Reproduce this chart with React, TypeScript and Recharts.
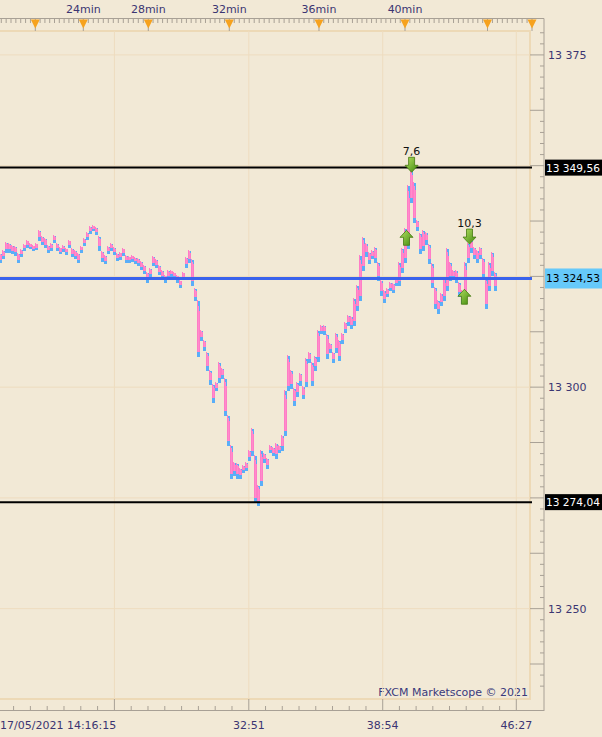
import React from "react";
import { Bar, CartesianGrid, ComposedChart, ReferenceLine, Scatter, XAxis, YAxis } from "recharts";

// tick bars, one every 3px: envelope of ask (pink) over bid (blue)
const highs = [
  13330.2, 13330.9, 13332.7, 13332.5, 13332.0, 13331.8, 13330.2, 13331.1, 13332.3, 13333.2,
  13332.5, 13332.0, 13332.5, 13335.4, 13334.1, 13333.6, 13332.0, 13332.5, 13334.3, 13332.5,
  13331.6, 13332.0, 13331.4, 13333.2, 13331.4, 13330.9, 13330.2, 13331.8, 13333.6, 13335.0,
  13336.3, 13336.6, 13336.1, 13334.1, 13330.7, 13329.8, 13331.8, 13332.5, 13331.6, 13330.2,
  13330.5, 13331.4, 13329.8, 13329.6, 13329.8, 13329.3, 13329.1, 13328.4, 13327.5, 13326.0,
  13326.9, 13329.6, 13328.9, 13327.5, 13326.4, 13325.3, 13326.4, 13326.4, 13326.0, 13325.3,
  13324.2, 13326.0, 13329.3, 13330.9, 13328.9, 13322.3, 13319.6, 13312.9, 13310.6, 13307.9,
  13303.8, 13300.7, 13301.1, 13305.6, 13304.3, 13302.0, 13293.7, 13286.9, 13283.1, 13282.8,
  13281.7, 13282.4, 13283.1, 13285.8, 13290.7, 13284.7, 13277.9, 13285.8, 13285.1, 13284.0,
  13286.9, 13286.5, 13287.4, 13286.9, 13289.2, 13299.3, 13307.2, 13303.8, 13299.8, 13301.1,
  13303.2, 13300.2, 13306.5, 13307.9, 13305.6, 13307.0, 13312.9, 13314.0, 13314.0, 13312.0,
  13309.9, 13307.9, 13312.2, 13310.6, 13312.2, 13314.7, 13316.3, 13316.0, 13320.1, 13323.0,
  13329.8, 13333.9, 13332.5, 13330.5, 13330.9, 13331.6, 13328.2, 13324.2, 13321.9, 13322.3,
  13323.7, 13323.5, 13324.8, 13328.2, 13331.4, 13335.9, 13345.6, 13349.4, 13346.3, 13337.7,
  13334.8, 13335.4, 13335.0, 13332.3, 13328.0, 13322.6, 13319.6, 13321.2, 13324.6, 13331.4,
  13328.2, 13326.4, 13326.4, 13323.7, 13321.9, 13328.2, 13332.5, 13333.2, 13331.6, 13330.9,
  13331.6, 13329.1, 13324.6, 13328.2, 13330.5, 13326.0,
];

const lows = [
  13328.2, 13329.1, 13330.5, 13330.5, 13330.2, 13329.8, 13328.2, 13329.6, 13330.9, 13331.6,
  13331.4, 13330.9, 13331.1, 13333.2, 13332.3, 13331.6, 13330.5, 13330.9, 13332.7, 13330.9,
  13330.2, 13330.7, 13330.0, 13331.6, 13329.6, 13329.1, 13328.2, 13330.5, 13332.0, 13333.4,
  13334.8, 13335.4, 13334.5, 13330.9, 13328.4, 13328.0, 13330.2, 13330.9, 13330.0, 13328.7,
  13328.9, 13329.8, 13328.2, 13328.2, 13328.4, 13328.0, 13327.5, 13326.6, 13325.7, 13323.7,
  13325.1, 13327.5, 13327.1, 13325.5, 13324.6, 13323.7, 13324.6, 13325.1, 13324.6, 13323.7,
  13322.6, 13324.4, 13327.1, 13328.2, 13323.0, 13319.6, 13307.0, 13310.6, 13308.4, 13303.8,
  13300.7, 13296.6, 13299.3, 13301.1, 13302.0, 13293.7, 13286.9, 13279.5, 13280.1, 13279.5,
  13279.5, 13280.8, 13281.3, 13283.5, 13284.7, 13274.0, 13273.4, 13278.0, 13283.1, 13281.7,
  13285.3, 13284.7, 13284.0, 13285.3, 13285.8, 13289.2, 13299.3, 13299.8, 13295.9, 13298.0,
  13300.5, 13297.5, 13300.2, 13305.6, 13300.5, 13303.8, 13306.0, 13312.2, 13312.0, 13306.5,
  13307.9, 13305.6, 13307.9, 13306.1, 13309.9, 13312.4, 13314.0, 13313.3, 13314.0, 13317.4,
  13319.6, 13326.4, 13329.6, 13328.0, 13329.1, 13328.2, 13324.2, 13320.8, 13319.2, 13320.5,
  13321.9, 13321.4, 13323.0, 13323.0, 13326.0, 13328.2, 13331.4, 13341.8, 13337.2, 13335.4,
  13330.2, 13330.9, 13332.3, 13328.0, 13322.6, 13317.8, 13316.7, 13318.5, 13319.6, 13321.9,
  13324.2, 13324.6, 13323.7, 13320.5, 13319.0, 13319.0, 13328.2, 13330.5, 13329.1, 13328.2,
  13329.1, 13324.6, 13317.8, 13321.9, 13325.3, 13321.9,
];

const levelPrices = [13349.56, 13324.53, 13274.04];
const levelLabels = ["13 349,56", "13 324,53", "13 274,04"];
const levelColors = ["#000000", "#3A63EC", "#000000"];

const priceLabels = [13375, 13300, 13250];
const gridPrices = [13375, 13350, 13325, 13300, 13275, 13250];

const timeTicks = [0, 82.93, 127.57, 172.1];
const timeLabels = ["17/05/2021 14:16:15", "32:51", "38:54", "46:27"];
const timeGrid = [38.13, 82.93, 127.57, 172.1];

const minuteMarks = [11.77, 27.77, 49.43, 76.43, 106.33, 135, 162.5, 177.33];
const minuteLabels = ["", "24min", "28min", "32min", "36min", "40min", "", ""];

const tradeIdx = [137.2, 135.5, 156.5, 154.8];
const tradePrice = [13348.5, 13335.4, 13332.3, 13322.1];
const tradeDir = ["down", "up", "down", "up"];
const tradeLabels = ["7,6", "", "10,3", ""];

const BG = "#F2E9D6";
const AXIS = "#A8A095";
const TEXT = "#3B3572";
const FONT = "DejaVu Sans, sans-serif";
const X_MAX = 177.33;
const Y_MIN = 13229.6;
const Y_MAX = 13380.4;

const bars = highs.map((h, i) => ({ i, range: [lows[i], h] }));
const trades = tradeIdx.map((i, k) => ({ i, price: tradePrice[k], dir: tradeDir[k], label: tradeLabels[k] }));

// axis tick positions (minor ticks fill the gaps between the marked ones)
const topTicks: number[] = [...minuteMarks];
for (let k = 1; k < minuteMarks.length; k++) {
  const a = minuteMarks[k - 1];
  const b = minuteMarks[k];
  const n = Math.max(1, Math.round((b - a) / 1.62));
  for (let j = 1; j < n; j++) topTicks.push(a + (j * (b - a)) / n);
}
for (let t = minuteMarks[0] - 1.62; t >= 0; t -= 1.62) topTicks.push(t);

const bottomTicks: number[] = [0, ...timeGrid];
const gStep = (timeGrid[1] - timeGrid[0]) / 8;
for (let t = timeGrid[0] - gStep; t > 1; t -= gStep) bottomTicks.push(t);
for (let k = 1; k < timeGrid.length; k++) {
  for (let j = 1; j < 8; j++) bottomTicks.push(timeGrid[k - 1] + (j * (timeGrid[k] - timeGrid[k - 1])) / 8);
}

const priceTicks: number[] = [];
for (let p = 13232.5; p <= 13380; p += 2.5) priceTicks.push(p);

const fmtPrice = (v: number) => `${Math.floor(v / 1000)} ${String(Math.round(v % 1000)).padStart(3, "0")}`;

// pink ask stroke with the blue bid showing underneath; each bar is two thin strokes
const TickBar = (props: any) => {
  const { x, y, width, height } = props;
  if (x == null || y == null) return null;
  const cx = Math.round(x + width / 2);
  const top = Math.min(y, y + height);
  const h = Math.max(1, Math.abs(height));
  const blue = Math.min(4, Math.max(1.5, h * 0.3));
  return (
    <g shapeRendering="crispEdges">
      <rect x={cx - 1} y={top + 1} width={3} height={h} fill="#5AAEF8" />
      <rect x={cx - 1} y={top} width={1} height={Math.max(1, h - blue)} fill="#FF7DC6" />
      <rect x={cx + 1} y={top + h * 0.2} width={1} height={Math.max(1, h * 0.8 - blue)} fill="#FF7DC6" />
      <rect x={cx} y={top + h * 0.1} width={1} height={Math.max(1, h * 0.9 - blue)} fill="#FF8CCB" />
    </g>
  );
};

const TradeArrow = (props: any) => {
  const { cx, cy, payload, index } = props;
  if (cx == null || cy == null) return null;
  const down = payload.dir === "down";
  const s = down ? -1 : 1;
  const d = [
    `M${cx},${cy}`,
    `L${cx + 6.5},${cy + s * 7}`,
    `L${cx + 3},${cy + s * 7}`,
    `L${cx + 3},${cy + s * 15}`,
    `L${cx - 3},${cy + s * 15}`,
    `L${cx - 3},${cy + s * 7}`,
    `L${cx - 6.5},${cy + s * 7}`,
    "Z",
  ].join(" ");
  const id = `arrowGrad${index}`;
  return (
    <g>
      <defs>
        <linearGradient id={id} x1="0" y1="0" x2="1" y2="1">
          <stop offset="0%" stopColor="#B6E063" />
          <stop offset="100%" stopColor="#3F8A0C" />
        </linearGradient>
      </defs>
      <path d={d} fill={`url(#${id})`} stroke="#467A12" strokeWidth={0.8} />
      {payload.label ? (
        <text x={cx} y={cy - 17} textAnchor="middle" fontSize={11} fontFamily={FONT} fill="#111">
          {payload.label}
        </text>
      ) : null}
    </g>
  );
};

const TopTick = (props: any) => {
  const { x, payload } = props;
  const k = minuteMarks.indexOf(payload.value);
  if (k < 0) return <line x1={x} x2={x} y1={19} y2={23} stroke={AXIS} />;
  return (
    <g>
      <line x1={x} x2={x} y1={19} y2={31} stroke={AXIS} />
      <path d={`M${x - 4.5},19.5 L${x + 4.5},19.5 L${x},28.5 Z`} fill="#F6A21E" />
      {minuteLabels[k] ? (
        <text x={x} y={13} textAnchor="middle" fontSize={11} fontFamily={FONT} fill={TEXT}>
          {minuteLabels[k]}
        </text>
      ) : null}
    </g>
  );
};

const BottomTick = (props: any) => {
  const { x, payload } = props;
  const v = payload.value;
  const gi = timeGrid.indexOf(v);
  const li = timeTicks.indexOf(v);
  return (
    <g>
      {gi >= 0 ? (
        <line x1={x} x2={x} y1={699} y2={711} stroke={AXIS} />
      ) : li < 0 ? (
        <line x1={x} x2={x} y1={706} y2={711} stroke={AXIS} />
      ) : null}
      {li >= 0 ? (
        <text x={x} y={729} textAnchor={li === 0 ? "start" : "middle"} fontSize={11} fontFamily={FONT} fill={TEXT}>
          {timeLabels[li]}
        </text>
      ) : null}
    </g>
  );
};

const PriceTick = (props: any) => {
  const { y, payload } = props;
  const v = payload.value;
  const major = Math.abs(v / 12.5 - Math.round(v / 12.5)) < 1e-6;
  const labelled = priceLabels.some((p) => Math.abs(p - v) < 1e-6);
  return (
    <g>
      <line x1={major ? 530 : 540} x2={544} y1={y} y2={y} stroke={AXIS} />
      {labelled ? (
        <text x={548} y={y + 4} fontSize={11} fontFamily={FONT} fill={TEXT}>
          {fmtPrice(v)}
        </text>
      ) : null}
    </g>
  );
};

const PriceTag = (props: any) => {
  const { viewBox, k } = props;
  if (!viewBox) return null;
  const y = viewBox.y;
  const blue = k === 1;
  const h = blue ? 20 : 16;
  return (
    <g>
      <rect x={545} y={y - h / 2} width={60} height={h} fill={blue ? "#66C9FA" : "#000"} />
      <text x={546} y={y + 4} fontSize={10.6} fontFamily={FONT} fill={blue ? "#000" : "#fff"}>
        {levelLabels[k]}
      </text>
    </g>
  );
};

export default function App() {
  return (
    <div style={{ position: "absolute", left: 0, top: 0, width: 602, height: 737, background: BG, overflow: "hidden" }}>
      <svg width={602} height={737} style={{ position: "absolute", left: 0, top: 0 }}>
        <path d="M0,31 H530 V699 H0" fill="none" stroke="#EDD9B6" strokeWidth={2} />
        <line x1={0} x2={544} y1={18.5} y2={18.5} stroke={AXIS} />
        <line x1={544} x2={544} y1={18.5} y2={711} stroke={AXIS} />
        <line x1={0} x2={544} y1={710.5} y2={710.5} stroke={AXIS} />
        <text x={528} y={696} textAnchor="end" fontSize={11} fontFamily={FONT} fill="#3A3A7C">
          FXCM Marketscope © 2021
        </text>
      </svg>
      <div style={{ position: "absolute", left: 0, top: 0 }}>
        <ComposedChart width={602} height={737} data={bars} margin={{ top: 0, right: 0, bottom: 0, left: 0 }}>
          <CartesianGrid
            stroke="#EEDCBF"
            horizontalValues={gridPrices}
            verticalValues={timeGrid}
          />
          <XAxis
            dataKey="i"
            type="number"
            domain={[0, X_MAX]}
            allowDataOverflow
            ticks={bottomTicks}
            interval={0}
            height={38}
            axisLine={false}
            tickLine={false}
            tick={<BottomTick />}
          />
          <XAxis
            xAxisId="top"
            orientation="top"
            dataKey="i"
            type="number"
            domain={[0, X_MAX]}
            allowDataOverflow
            ticks={topTicks}
            interval={0}
            height={31}
            axisLine={false}
            tickLine={false}
            tick={<TopTick />}
          />
          <YAxis
            orientation="right"
            type="number"
            domain={[Y_MIN, Y_MAX]}
            allowDataOverflow
            ticks={priceTicks}
            interval={0}
            width={70}
            axisLine={false}
            tickLine={false}
            tick={<PriceTick />}
          />
          <Bar dataKey="range" barSize={3} shape={<TickBar />} isAnimationActive={false} />
          {levelPrices.map((p, k) => (
            <ReferenceLine
              key={p}
              y={p}
              stroke={levelColors[k]}
              strokeWidth={k === 1 ? 3 : 2}
              label={(lp: any) => <PriceTag viewBox={lp.viewBox} k={k} />}
            />
          ))}
          <Scatter data={trades} dataKey="price" shape={<TradeArrow />} isAnimationActive={false} />
        </ComposedChart>
      </div>
    </div>
  );
}
